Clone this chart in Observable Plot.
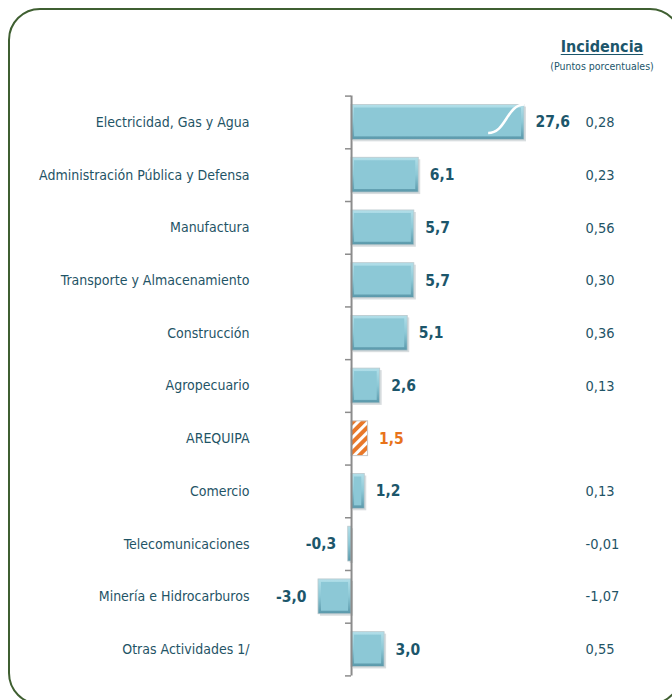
<!DOCTYPE html>
<html>
<head>
<meta charset="utf-8">
<script src="https://cdn.jsdelivr.net/npm/d3@7"></script>
<script src="https://cdn.jsdelivr.net/npm/@observablehq/plot@0.6"></script>
<style>
  html, body { margin: 0; padding: 0; background: #fff; }
  #wrap { position: relative; width: 672px; height: 700px; overflow: hidden;
    font-family: "Liberation Sans Narrow", "DejaVu Sans Condensed", "DejaVu Sans", sans-serif; font-stretch: condensed; }
  #frame { position: absolute; left: 8px; top: 8px; width: 674px; height: 697px;
    border: 2.5px solid #3f5f31; border-radius: 32px; box-sizing: border-box; }
  #head { position: absolute; left: 538px; width: 128px; top: 37px; text-align: center; color: #1c566b; }
  #head .t { font-weight: bold; font-size: 16px; text-decoration: underline; text-underline-offset: 2px; }
  #head .s { font-size: 10.5px; margin-top: 4px; }
  #chart { position: absolute; left: 0; top: 0; }
</style>
</head>
<body>
<div id="wrap">
  <div id="frame"></div>
  <div id="head"><div class="t">Incidencia</div><div class="s">(Puntos porcentuales)</div></div>
  <div id="chart"></div>
</div>
<script>
const categories = [
  "Electricidad, Gas y Agua",
  "Administración Pública y Defensa",
  "Manufactura",
  "Transporte y Almacenamiento",
  "Construcción",
  "Agropecuario",
  "AREQUIPA",
  "Comercio",
  "Telecomunicaciones",
  "Minería e Hidrocarburos",
  "Otras Actividades 1/"
];
const values = [27.6, 6.1, 5.7, 5.7, 5.1, 2.6, 1.5, 1.2, -0.3, -3.0, 3.0];
const incidencia = [0.28, 0.23, 0.56, 0.30, 0.36, 0.13, null, 0.13, -0.01, -1.07, 0.55];
const totalCategory = "AREQUIPA";
const axisBreak = 15.7; // bars longer than this are drawn cut with a break mark

const loc = d3.formatLocale({decimal: ",", thousands: ".", grouping: [3], currency: ["", ""], minus: "-"});
const f1 = loc.format(".1f"), f2 = loc.format(".2f");

const rows = categories.map((c, i) => ({
  i, cat: c, value: values[i], inc: incidencia[i],
  shown: Math.min(values[i], axisBreak),
  total: c === totalCategory
}));
const boundaries = d3.range(categories.length + 1).map(k => k - 0.5);
const half = 0.33;

const teal = "#1c566b";
const font = '"Liberation Sans Narrow", "DejaVu Sans Condensed", "DejaVu Sans", sans-serif';

const plot = Plot.plot({
  width: 672, height: 700,
  marginLeft: 318, marginRight: 148, marginTop: 95.6, marginBottom: 24.6,
  style: {fontFamily: font, background: "transparent", overflow: "visible"},
  x: {domain: [-3, axisBreak], axis: null},
  y: {domain: [categories.length - 0.5, -0.5], axis: null},
  marks: [
    // soft shadow
    Plot.rect(rows.filter(d => !d.total), {x1: 0, x2: "shown", y1: d => d.i - half, y2: d => d.i + half,
      fill: "#d8dddf", dx: 2, dy: 2}),
    // outer bevel
    Plot.rect(rows.filter(d => !d.total), {x1: 0, x2: "shown", y1: d => d.i - half, y2: d => d.i + half,
      fill: "url(#bevel)", stroke: "#b9c8cc", strokeWidth: 0.8}),
    // inner face
    Plot.rect(rows.filter(d => !d.total && Math.abs(d.shown) > 0.6), {x1: 0, x2: "shown", y1: d => d.i - half, y2: d => d.i + half,
      fill: "#8cc8d6", inset: 3}),
    // total (hatched)
    Plot.rect(rows.filter(d => d.total), {x1: 0, x2: "shown", y1: d => d.i - half, y2: d => d.i + half,
      fill: "url(#hatch)", stroke: "#c9c9c9", strokeWidth: 1}),
    // break mark
    Plot.link(rows.filter(d => d.value > axisBreak), {x1: axisBreak - 3.3, y1: d => d.i + 0.2, x2: axisBreak, y2: d => d.i - 0.34,
      curve: "bump-x", stroke: "white", strokeWidth: 2.5}),
    // zero axis with boundary ticks
    Plot.ruleY(boundaries, {x1: -0.55, x2: 0, stroke: "#8c8c8c", strokeWidth: 1.5}),
    Plot.ruleX([0], {y1: -0.5, y2: categories.length - 0.5, stroke: "#8c8c8c", strokeWidth: 2}),
    // value labels
    Plot.text(rows.filter(d => d.value >= 0), {x: "shown", y: "i", text: d => f1(d.value),
      dx: 11, textAnchor: "start", fontWeight: "bold", fontSize: 15.5,
      fill: d => d.total ? "#e8731a" : teal}),
    Plot.text(rows.filter(d => d.value < 0), {x: "shown", y: "i", text: d => f1(d.value), textAnchor: "end", dx: -12,
      fontWeight: "bold", fontSize: 15.5, fill: teal}),
    // category labels
    Plot.text(rows, {frameAnchor: "left", y: "i", text: "cat", textAnchor: "end", dx: -69, fontSize: 14, fill: "#1f5466"}),
    // incidencia column
    Plot.text(rows.filter(d => d.inc != null), {frameAnchor: "right", y: "i", text: d => f2(d.inc), textAnchor: "start", dx: 61, fontSize: 14.5, fill: "#1f5466"})
  ]
});

// patterns / gradients
const svg = d3.select(plot);
const defs = svg.insert("defs", ":first-child");
const g = defs.append("linearGradient").attr("id", "bevel").attr("x1", 0).attr("y1", 0).attr("x2", 0).attr("y2", 1);
g.append("stop").attr("offset", 0).attr("stop-color", "#b2dfe9");
g.append("stop").attr("offset", 0.5).attr("stop-color", "#8cc8d6");
g.append("stop").attr("offset", 1).attr("stop-color", "#5a98aa");
const p = defs.append("pattern").attr("id", "hatch").attr("patternUnits", "userSpaceOnUse")
  .attr("width", 7).attr("height", 7).attr("patternTransform", "rotate(45)");
p.append("rect").attr("width", 7).attr("height", 7).attr("fill", "#ffffff");
p.append("rect").attr("width", 4).attr("height", 7).attr("fill", "#e8782a");

document.getElementById("chart").appendChild(plot);
</script>
</body>
</html>
